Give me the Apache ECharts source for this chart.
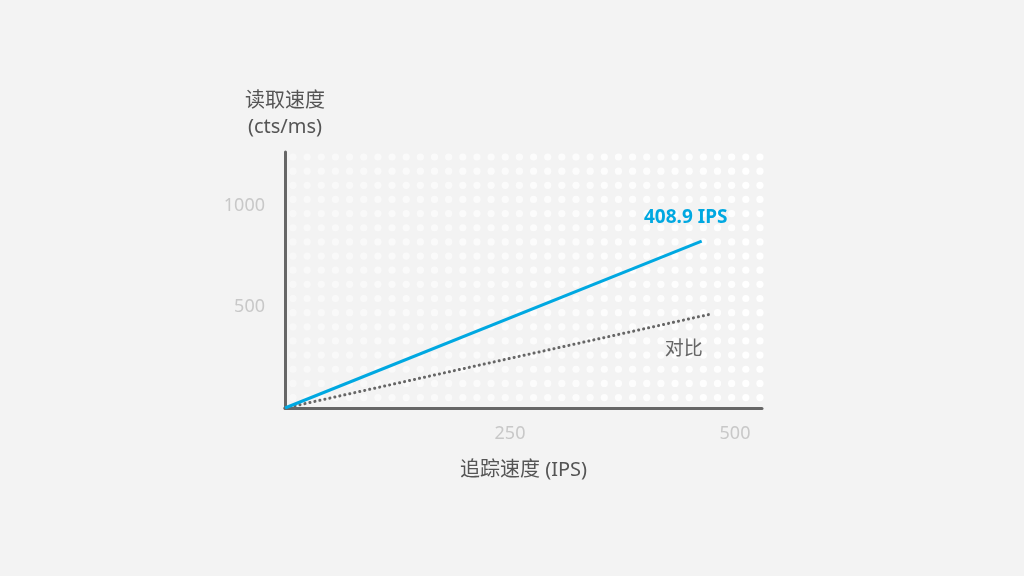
<!DOCTYPE html>
<html>
<head>
<meta charset="utf-8">
<script src="https://cdn.jsdelivr.net/npm/echarts@6/dist/echarts.min.js"></script>
<style>
  html, body { margin: 0; padding: 0; background: #f3f3f3; }
  #main { width: 1024px; height: 576px; }
</style>
</head>
<body>
<div id="main"></div>
<script>
    // 数据
    var seriesNames = ['408.9 IPS', '对比'];
    var blueLine = [[0, 0], [463, 825]];
    var dottedLine = [[0, 0], [473, 464]];
    var xTicks = [250, 500];
    var yTicks = [500, 1000];

    var FONT = '"Noto Sans", "Noto Sans CJK SC", sans-serif';

    //背景点阵（装饰）
    function makeDots(w, h){
        var c = document.createElement('canvas');
        c.width = w; c.height = h;
        var ctx = c.getContext('2d');
        var step = 14.15;
        for (var i = 0; i < 34; i++) {
            for (var j = 0; j < 18; j++) {
                var x = 8 + i * step, y = 7 + j * step;
                ctx.globalAlpha = 0.45 + 0.5 * (i / 33);
                ctx.fillStyle = '#ffffff';
                ctx.beginPath();
                ctx.arc(x, y, 3.6, 0, Math.PI * 2);
                ctx.fill();
            }
        }
        return c;
    }

    //只在最后一个点显示标签
    function lastLabel(text, len){
        return function(p){ return p.dataIndex === len - 1 ? text : ''; };
    }

    var chart = echarts.init(document.getElementById('main'));

    chart.setOption({
        backgroundColor: '#f3f3f3',
        animation: false,
        graphic: [{
            type: 'image',
            left: 285, top: 150, z: -10,
            style: { image: makeDots(480, 256), width: 480, height: 256 }
        }],
        grid: { left: 285, right: 262, top: 152, bottom: 168 },
        xAxis: {
            type: 'value', min: 0, max: 530, interval: 250,
            name: '追踪速度 (IPS)', nameLocation: 'middle', nameGap: 52,
            nameTextStyle: { color: '#555', fontSize: 20, fontFamily: FONT },
            axisLine: { lineStyle: { color: '#666', width: 3 } },
            axisTick: { show: false },
            splitLine: { show: false },
            axisLabel: {
                color: '#c8c8c8', fontSize: 18, fontFamily: FONT, margin: 17,
                formatter: function(v){ return xTicks.indexOf(v) >= 0 ? String(v) : ''; }
            }
        },
        yAxis: {
            type: 'value', min: 0, max: 1265, interval: 500,
            name: '读取速度\n(cts/ms)', nameLocation: 'end', nameGap: 12,
            nameTextStyle: { color: '#555', fontSize: 20, lineHeight: 26, fontFamily: FONT, align: 'center' },
            axisLine: { show: true, lineStyle: { color: '#666', width: 3 } },
            axisTick: { show: false },
            splitLine: { show: false },
            axisLabel: {
                color: '#c8c8c8', fontSize: 18, fontFamily: FONT, margin: 20,
                formatter: function(v){ return yTicks.indexOf(v) >= 0 ? String(v) : ''; }
            }
        },
        series: [{
            name: seriesNames[0],
            type: 'line',
            data: blueLine,
            symbol: 'circle', symbolSize: 0, showSymbol: true,
            lineStyle: { color: '#00a8e1', width: 3 },
            label: {
                show: true, formatter: lastLabel(seriesNames[0], blueLine.length),
                color: '#00a8e1', fontSize: 19, fontWeight: 'bold', fontFamily: FONT,
                position: 'top', distance: 14, offset: [-16, 0]
            },
            z: 3
        }, {
            name: seriesNames[1],
            type: 'line',
            data: dottedLine,
            symbol: 'circle', symbolSize: 0, showSymbol: true,
            lineStyle: { color: '#666', width: 3, type: [0.1, 5], cap: 'round' },
            label: {
                show: true, formatter: lastLabel(seriesNames[1], dottedLine.length),
                color: '#666', fontSize: 19, fontFamily: FONT,
                position: 'bottom', distance: 26, offset: [-27, 0]
            },
            z: 2
        }]
    });
</script>
</body>
</html>
